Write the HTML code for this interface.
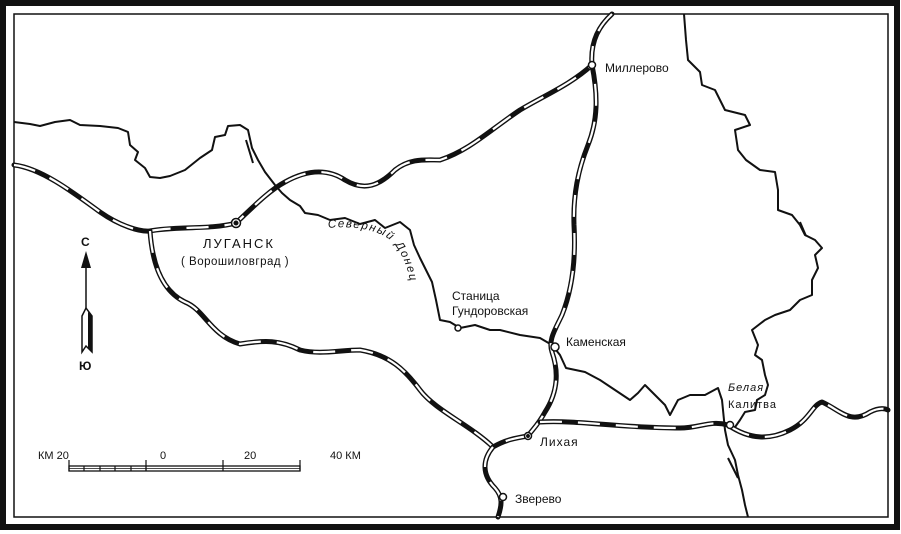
<!DOCTYPE html>
<html><head><meta charset="utf-8"><style>
body{margin:0;background:#fff}
svg{display:block}
text{font-family:"Liberation Sans",sans-serif;fill:#111}
.rw{fill:none;stroke:#111;stroke-width:5;stroke-linecap:round;stroke-linejoin:round}
.rwi{fill:none;stroke:#fff;stroke-width:2.2;stroke-dasharray:22 16}
.rv{fill:none;stroke:#111;stroke-width:2;stroke-linejoin:round}
</style></head><body>
<svg width="901" height="534" viewBox="0 0 901 534">
<rect x="0" y="0" width="901" height="534" fill="#fff"/>
<rect x="3" y="3" width="894" height="524" fill="none" stroke="#111" stroke-width="6"/>
<rect x="14" y="14" width="874" height="503" fill="none" stroke="#111" stroke-width="1.5"/>
<!-- rivers -->
<path class="rv" d="M14,122 L30,124 40,126 55,122 70,120 80,125 100,126 118,128 128,132 130,145 138,152 135,160 145,168 150,177 160,178 170,176 185,170 200,158 212,150 215,137 225,135 228,126 240,125 248,130 252,148 258,160 265,172 275,185 282,193 290,200 300,206 305,213 318,215 330,220 345,218 360,224 375,220 385,228 400,222 410,230 414,245 420,258 425,268 432,282 436,300 440,320 450,322 460,328 475,325 490,330 500,330 520,335 540,338 552,345 560,355 566,368 585,372 600,380 612,388 630,400 638,393 645,385 655,395 665,405 670,415 678,400 690,395 705,395 718,388 722,400 725,430 728,445 735,460 738,475 742,490 745,505 748,517"/>
<path class="rv" d="M684,14 L686,40 688,60 700,72 702,85 715,90 720,100 725,110 745,115 750,125 735,130 738,150 746,160 760,170 775,172 778,190 778,210 792,215 800,225 805,235 815,240 822,248 815,255 818,268 812,280 812,295 800,300 790,310 775,315 765,320 752,330 758,345 755,355 762,360 765,375 768,385 765,395 757,400 755,410 745,412 740,420 733,430"/>
<path class="rv" d="M246,140 L253,163" stroke-width="1.2"/>
<path class="rv" d="M800,222 L806,236" stroke-width="1.2"/>
<path class="rv" d="M728,458 L738,478" stroke-width="1.2"/>
<!-- railways -->
<g>
<path id="r1" class="rw" d="M14,165 C40,168 70,190 100,212 C120,226 140,232 150,231 C175,226 210,230 236,223 C255,205 270,190 285,182 C310,168 330,170 345,180 C365,192 380,185 395,170 C410,158 425,160 440,160 C470,150 490,130 520,110 C545,95 570,85 592,65"/>
<path class="rwi" d="M14,165 C40,168 70,190 100,212 C120,226 140,232 150,231 C175,226 210,230 236,223 C255,205 270,190 285,182 C310,168 330,170 345,180 C365,192 380,185 395,170 C410,158 425,160 440,160 C470,150 490,130 520,110 C545,95 570,85 592,65"/>
<path class="rw" d="M612,14 C600,25 590,40 592,65 C598,95 598,120 588,145 C578,170 573,195 574,225 C576,260 572,290 562,315 C555,330 548,340 552,352 C560,375 556,395 545,412 C538,425 532,430 528,436"/>
<path class="rwi" d="M612,14 C600,25 590,40 592,65 C598,95 598,120 588,145 C578,170 573,195 574,225 C576,260 572,290 562,315 C555,330 548,340 552,352 C560,375 556,395 545,412 C538,425 532,430 528,436"/>
<path class="rw" d="M150,231 C152,260 160,290 185,302 C205,310 210,335 240,344 C265,340 280,340 300,350 C320,355 340,350 360,350 C390,355 405,370 420,390 C435,410 470,425 493,447 C505,440 515,438 528,436"/>
<path class="rwi" d="M150,231 C152,260 160,290 185,302 C205,310 210,335 240,344 C265,340 280,340 300,350 C320,355 340,350 360,350 C390,355 405,370 420,390 C435,410 470,425 493,447 C505,440 515,438 528,436"/>
<path class="rw" d="M540,422 C580,420 620,428 680,428 C700,428 710,420 728,425 C750,440 770,440 790,430 C810,420 812,405 822,402 C840,410 850,425 870,412 C878,408 884,408 888,410"/>
<path class="rwi" d="M540,422 C580,420 620,428 680,428 C700,428 710,420 728,425 C750,440 770,440 790,430 C810,420 812,405 822,402 C840,410 850,425 870,412 C878,408 884,408 888,410"/>
<path class="rw" d="M493,447 C482,460 482,475 495,488 C503,497 502,505 498,517"/>
<path class="rwi" d="M493,447 C482,460 482,475 495,488 C503,497 502,505 498,517"/>
</g>
<!-- stations -->
<g fill="#fff" stroke="#111" stroke-width="1.5">
<circle cx="236" cy="223" r="4.5"/><circle cx="236" cy="223" r="1.8" fill="#111"/>
<circle cx="592" cy="65" r="3.5"/>
<circle cx="555" cy="347" r="4"/>
<circle cx="528" cy="436" r="3.5"/><circle cx="528" cy="436" r="1.2" fill="#111"/>
<circle cx="503" cy="497" r="3.5"/>
<circle cx="458" cy="328" r="3"/>
<circle cx="730" cy="425" r="3.5"/>
</g>
<!-- labels -->
<text x="605" y="72" font-size="12">Миллерово</text>
<text x="203" y="248" font-size="13" letter-spacing="2">ЛУГАНСК</text>
<text x="181" y="265" font-size="11.5" letter-spacing="0.5">( Ворошиловград )</text>
<text x="452" y="300" font-size="12">Станица</text>
<text x="452" y="315" font-size="12">Гундоровская</text>
<text x="566" y="346" font-size="12">Каменская</text>
<text x="728" y="391" font-size="11" font-style="italic" letter-spacing="1">Белая</text>
<text x="728" y="408" font-size="11" letter-spacing="1">Калитва</text>
<text x="540" y="446" font-size="12" letter-spacing="1">Лихая</text>
<text x="515" y="503" font-size="12">Зверево</text>
<path id="dn" d="M328,228 C360,225 385,232 395,245 C405,258 410,275 412,295" fill="none"/>
<text font-size="11.5" font-style="italic" letter-spacing="1.5"><textPath href="#dn">Северный Донец</textPath></text>
<!-- compass -->
<text x="81" y="246" font-size="12" font-weight="bold">С</text>
<polygon points="86,251 81,268 91,268" fill="#111"/>
<line x1="86" y1="265" x2="86" y2="312" stroke="#111" stroke-width="1.5"/>
<path d="M82,316 L86,308 L92,316 L92,352 L86,346 L82,352 Z" fill="#fff" stroke="#111" stroke-width="1.5"/>
<path d="M88,312 L92,316 L92,352 L88,348 Z" fill="#111"/>
<text x="79" y="370" font-size="12" font-weight="bold">Ю</text>
<!-- scale -->
<text x="38" y="459" font-size="11">КМ 20</text>
<text x="160" y="459" font-size="11">0</text>
<text x="244" y="459" font-size="11">20</text>
<text x="330" y="459" font-size="11">40 КМ</text>
<rect x="69" y="466" width="231" height="5" fill="#fff" stroke="#111" stroke-width="1.3"/>
<line x1="69" y1="468.5" x2="300" y2="468.5" stroke="#111" stroke-width="0.8"/>
<g stroke="#111" stroke-width="1.2">
<line x1="69" y1="460" x2="69" y2="471"/><line x1="84" y1="466" x2="84" y2="471"/><line x1="100" y1="466" x2="100" y2="471"/><line x1="115" y1="466" x2="115" y2="471"/><line x1="131" y1="466" x2="131" y2="471"/><line x1="146" y1="466" x2="146" y2="471"/>
<line x1="146" y1="460" x2="146" y2="471"/><line x1="223" y1="460" x2="223" y2="471"/><line x1="300" y1="460" x2="300" y2="471"/>
</g>
</svg>
</body></html>
